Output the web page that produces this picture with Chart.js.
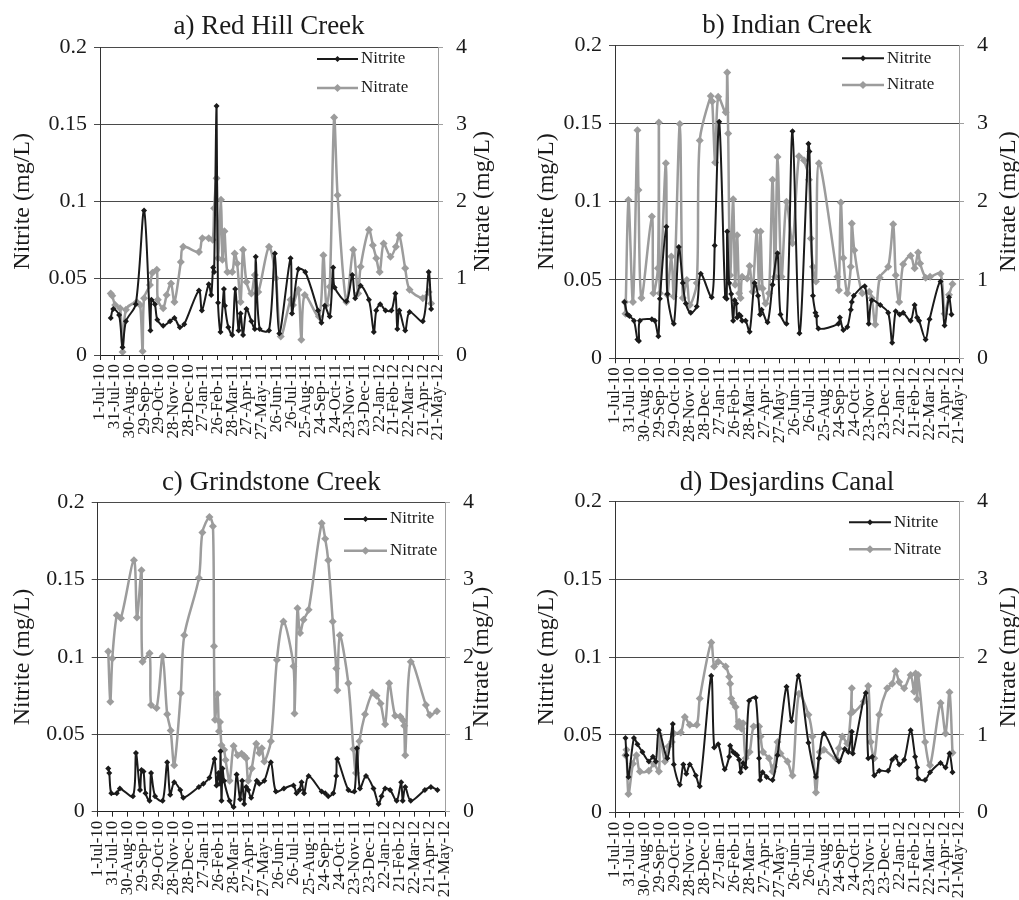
<!DOCTYPE html>
<html>
<head>
<meta charset="utf-8">
<title>Nitrite and nitrate</title>
<script src="https://cdn.jsdelivr.net/npm/chart.js@4.4.1/dist/chart.umd.min.js"></script>
<style>
  html, body { margin: 0; padding: 0; background: #fff; }
  #page { position: relative; width: 1019px; height: 900px; overflow: hidden; }
  .panel { position: absolute; }
</style>
</head>
<body>
<div id="page">
  <div class="panel" style="left:0;top:0"><canvas id="chart-a" width="509" height="450"></canvas></div>
  <div class="panel" style="left:509px;top:0"><canvas id="chart-b" width="510" height="450"></canvas></div>
  <div class="panel" style="left:0;top:450px"><canvas id="chart-c" width="509" height="450"></canvas></div>
  <div class="panel" style="left:509px;top:450px"><canvas id="chart-d" width="510" height="450"></canvas></div>
</div>
<script>
// days since 1-Jul-10, one tick every 30 days
const tickDays = [0,30,60,90,120,150,180,210,240,270,300,330,360,390,420,450,480,510,540,570,600,630,660,690];
const dateLabels = ['1-Jul-10','31-Jul-10','30-Aug-10','29-Sep-10','29-Oct-10','28-Nov-10','28-Dec-10',
  '27-Jan-11','26-Feb-11','28-Mar-11','27-Apr-11','27-May-11','26-Jun-11','26-Jul-11','25-Aug-11',
  '24-Sep-11','24-Oct-11','23-Nov-11','23-Dec-11','22-Jan-12','21-Feb-12','22-Mar-12','21-Apr-12','21-May-12'];
const nitriteTicks = [0, 0.05, 0.1, 0.15, 0.2];
const nitriteTickLabels = ['0', '0.05', '0.1', '0.15', '0.2'];
const nitrateTicks = [0, 1, 2, 3, 4];
const nitrateTickLabels = ['0', '1', '2', '3', '4'];
const seriesNames = ['Nitrite', 'Nitrate'];

// [day, mg/L]
const redHillNitrite = [[22,0.024],[27,0.030],[39,0.026],[46,0.005],[53,0.022],[73,0.033],[90,0.094],[103,0.016],[105,0.036],[112,0.033],[117,0.023],[129,0.019],[143,0.022],[152,0.024],[163,0.018],[172,0.020],[202,0.042],[208,0.029],[222,0.046],[227,0.039],[231,0.057],[233,0.054],[238,0.162],[241,0.034],[246,0.015],[253,0.043],[255,0.032],[262,0.018],[270,0.013],[276,0.043],[283,0.016],[287,0.027],[292,0.013],[299,0.030],[309,0.022],[316,0.017],[318,0.064],[326,0.017],[345,0.016],[357,0.066],[366,0.014],[389,0.063],[392,0.027],[405,0.056],[419,0.054],[445,0.029],[452,0.021],[459,0.032],[469,0.025],[476,0.057],[479,0.044],[503,0.035],[515,0.052],[521,0.037],[532,0.045],[549,0.036],[559,0.015],[564,0.029],[572,0.033],[583,0.029],[595,0.029],[603,0.040],[607,0.017],[611,0.029],[623,0.016],[632,0.028],[659,0.022],[671,0.054],[676,0.030]];
const redHillNitrate = [[22,0.80],[25,0.77],[31,0.65],[41,0.61],[46,0.04],[53,0.59],[75,0.69],[82,0.65],[87,0.05],[90,0.74],[102,0.91],[107,1.07],[116,1.11],[118,0.72],[129,0.61],[136,0.78],[145,0.93],[152,0.69],[165,1.21],[170,1.41],[202,1.34],[209,1.52],[222,1.52],[230,1.50],[233,1.91],[238,2.30],[241,1.26],[247,2.02],[250,1.24],[254,1.61],[260,1.08],[270,1.08],[275,1.32],[280,1.19],[287,0.69],[292,1.37],[299,0.95],[309,0.80],[316,1.04],[323,0.82],[345,1.41],[359,1.00],[369,0.24],[389,0.72],[394,0.65],[405,0.85],[411,0.20],[418,0.78],[447,0.50],[456,1.30],[462,0.65],[469,0.89],[478,3.09],[485,2.08],[503,0.69],[517,1.37],[527,0.80],[532,1.15],[549,1.63],[557,1.43],[564,1.26],[571,1.08],[579,1.45],[593,1.28],[604,1.41],[611,1.56],[623,1.13],[632,0.85],[659,0.74],[671,0.82],[676,0.67]];

const indianNitrite = [[19,0.036],[25,0.028],[29,0.027],[38,0.024],[45,0.012],[48,0.011],[50,0.024],[74,0.025],[80,0.024],[87,0.014],[90,0.038],[103,0.084],[105,0.041],[118,0.022],[128,0.071],[136,0.048],[142,0.035],[152,0.029],[164,0.033],[172,0.054],[194,0.039],[200,0.072],[209,0.151],[221,0.039],[224,0.038],[225,0.081],[229,0.048],[233,0.041],[237,0.024],[240,0.037],[243,0.035],[245,0.026],[249,0.028],[252,0.027],[255,0.024],[262,0.024],[270,0.017],[280,0.048],[287,0.040],[291,0.028],[294,0.031],[306,0.023],[316,0.047],[326,0.067],[332,0.028],[344,0.022],[356,0.145],[370,0.016],[388,0.137],[390,0.132],[397,0.040],[402,0.029],[404,0.027],[408,0.019],[448,0.022],[451,0.026],[458,0.018],[466,0.020],[473,0.031],[475,0.036],[479,0.040],[501,0.046],[509,0.022],[515,0.037],[532,0.034],[548,0.029],[556,0.010],[563,0.030],[571,0.028],[578,0.029],[593,0.024],[601,0.034],[606,0.026],[610,0.024],[623,0.012],[631,0.025],[653,0.049],[661,0.021],[670,0.039],[675,0.028]];
const indianNitrate = [[20,0.72],[21,0.57],[27,2.02],[36,0.72],[45,2.91],[47,2.15],[53,0.77],[74,1.81],[77,0.83],[86,1.15],[88,3.01],[90,0.83],[102,2.49],[105,0.81],[113,1.30],[118,0.79],[130,2.99],[136,0.77],[144,1.00],[150,0.68],[164,0.96],[170,2.78],[192,3.35],[195,3.28],[201,2.50],[207,3.34],[222,3.14],[225,3.65],[227,2.87],[231,1.06],[237,2.03],[241,0.94],[245,1.57],[249,0.83],[252,0.77],[255,1.04],[265,1.02],[270,1.18],[276,0.85],[284,1.62],[289,0.91],[292,1.62],[296,0.89],[302,0.70],[309,0.83],[316,2.28],[321,1.04],[326,2.57],[334,1.04],[344,2.00],[356,1.47],[369,2.58],[379,2.53],[389,2.28],[393,1.53],[397,1.17],[403,0.98],[409,2.49],[446,1.04],[449,0.87],[453,1.99],[458,1.28],[466,0.83],[473,1.17],[475,1.72],[480,1.38],[496,0.83],[510,0.85],[515,0.77],[522,0.43],[531,1.03],[548,1.17],[558,1.71],[563,1.06],[570,0.72],[578,1.20],[593,1.31],[601,1.15],[608,1.35],[612,1.21],[623,1.03],[632,1.04],[653,1.08],[661,0.57],[670,0.81],[677,0.95]];

const grindstoneNitrite = [[21,0.028],[23,0.025],[27,0.012],[38,0.012],[44,0.015],[70,0.010],[76,0.038],[84,0.014],[87,0.027],[91,0.026],[95,0.012],[103,0.007],[106,0.025],[114,0.010],[129,0.007],[138,0.032],[144,0.011],[152,0.019],[164,0.014],[170,0.009],[201,0.016],[210,0.018],[222,0.022],[232,0.034],[236,0.017],[240,0.025],[243,0.018],[244,0.039],[246,0.007],[248,0.028],[251,0.020],[262,0.007],[270,0.003],[276,0.024],[283,0.008],[287,0.020],[291,0.005],[295,0.016],[299,0.014],[305,0.009],[316,0.020],[321,0.018],[331,0.020],[344,0.032],[354,0.013],[370,0.015],[389,0.017],[395,0.012],[401,0.014],[405,0.019],[410,0.012],[419,0.023],[445,0.013],[452,0.012],[458,0.010],[468,0.012],[474,0.023],[476,0.034],[498,0.014],[510,0.013],[515,0.041],[521,0.015],[533,0.023],[548,0.015],[558,0.005],[564,0.010],[571,0.015],[581,0.014],[594,0.007],[603,0.019],[606,0.007],[611,0.016],[622,0.007],[650,0.014],[662,0.016],[675,0.014]];
const grindstoneNitrate = [[21,2.07],[25,1.42],[29,1.98],[38,2.54],[46,2.50],[72,3.25],[78,2.51],[87,3.12],[89,1.94],[103,2.05],[106,1.38],[117,1.34],[129,2.01],[138,1.26],[145,1.05],[152,0.60],[165,1.53],[172,2.28],[201,3.02],[208,3.61],[222,3.81],[229,3.69],[231,2.14],[233,1.19],[238,1.52],[241,1.04],[243,1.16],[246,0.86],[251,0.80],[254,0.67],[262,0.40],[270,0.85],[278,0.73],[286,0.75],[291,0.72],[295,0.69],[299,0.40],[306,0.56],[315,0.88],[321,0.76],[326,0.82],[331,0.65],[344,0.91],[356,1.96],[369,2.46],[389,1.88],[391,1.27],[397,2.63],[402,2.31],[409,2.48],[419,2.61],[445,3.73],[452,3.53],[458,3.25],[467,2.46],[474,1.85],[476,1.57],[481,2.28],[498,1.66],[508,0.81],[513,0.50],[520,0.91],[531,1.26],[546,1.54],[554,1.50],[562,1.40],[571,1.13],[579,1.66],[591,1.24],[601,1.23],[607,1.18],[609,1.11],[611,0.73],[622,1.94],[652,1.38],[660,1.25],[674,1.30]];

const desjardinsNitrite = [[21,0.048],[23,0.037],[27,0.023],[38,0.048],[45,0.044],[55,0.039],[68,0.033],[76,0.036],[82,0.033],[88,0.053],[105,0.035],[116,0.057],[118,0.031],[130,0.018],[137,0.031],[143,0.025],[150,0.031],[162,0.024],[170,0.017],[193,0.088],[199,0.042],[207,0.044],[220,0.028],[229,0.036],[231,0.043],[237,0.039],[241,0.038],[245,0.037],[249,0.034],[252,0.026],[257,0.032],[262,0.029],[269,0.072],[282,0.074],[289,0.035],[291,0.021],[296,0.026],[304,0.023],[316,0.021],[326,0.037],[344,0.081],[354,0.059],[368,0.088],[388,0.045],[403,0.023],[409,0.035],[419,0.051],[449,0.033],[461,0.041],[468,0.039],[475,0.052],[477,0.038],[503,0.077],[508,0.035],[516,0.036],[520,0.024],[530,0.027],[548,0.027],[556,0.034],[563,0.036],[570,0.031],[580,0.034],[593,0.053],[602,0.036],[606,0.029],[608,0.022],[622,0.021],[632,0.026],[653,0.032],[663,0.029],[671,0.038],[677,0.026]];
const desjardinsNitrate = [[21,0.74],[23,0.81],[27,0.24],[36,0.63],[43,0.74],[50,0.53],[68,0.54],[78,0.63],[88,0.53],[90,1.00],[100,0.66],[107,0.85],[114,0.91],[118,1.02],[132,1.03],[140,1.23],[150,1.13],[164,1.13],[170,1.47],[193,2.19],[199,1.88],[207,1.94],[222,1.88],[229,1.75],[231,1.66],[233,1.47],[237,1.41],[242,1.36],[245,1.11],[249,1.17],[254,1.08],[257,1.15],[262,0.70],[270,0.78],[278,1.11],[289,1.11],[292,0.98],[297,0.78],[309,0.70],[316,0.53],[319,0.59],[326,0.91],[332,0.76],[346,0.66],[356,0.48],[369,1.53],[388,1.26],[396,0.98],[403,0.26],[411,0.78],[419,0.81],[443,0.70],[449,0.83],[456,0.98],[466,0.89],[473,1.28],[475,1.60],[477,1.30],[499,1.43],[508,1.63],[513,0.91],[520,0.70],[530,1.26],[546,1.60],[556,1.66],[563,1.82],[570,1.68],[580,1.60],[593,1.77],[600,1.56],[603,1.79],[606,1.46],[608,1.77],[622,0.91],[632,0.61],[653,1.41],[663,1.02],[671,1.55],[677,0.77]];

const SERIF = "'Liberation Serif', 'Times New Roman', serif";
const INK = '#1a1a1a';
const GREY = '#9c9c9c';
Chart.defaults.font.family = SERIF;
Chart.defaults.color = INK;

const toXY = pts => pts.map(p => ({ x: p[0], y: p[1] }));

function diamond(ctx, x, y, r, color) {
  ctx.fillStyle = color;
  ctx.beginPath();
  ctx.moveTo(x, y - r); ctx.lineTo(x + r, y); ctx.lineTo(x, y + r); ctx.lineTo(x - r, y);
  ctx.closePath();
  ctx.fill();
}

// panel title, in-plot legend and axis titles (both read bottom-to-top)
const panelDecor = {
  id: 'panelDecor',
  afterDraw(chart, args, o) {
    const { ctx, chartArea: ca } = chart;
    ctx.save();
    ctx.fillStyle = INK;
    ctx.textAlign = 'center';
    ctx.textBaseline = 'middle';
    ctx.font = '27px ' + SERIF;
    ctx.fillText(o.title, (ca.left + ca.right) / 2, ca.top - o.titleGap);

    ctx.font = '24px ' + SERIF;
    const midY = (ca.top + ca.bottom) / 2;
    [[ca.left - o.leftTitleDx, 'Nitrite (mg/L)'], [ca.right + o.rightTitleDx, 'Nitrate (mg/L)']].forEach(([x, t]) => {
      ctx.save();
      ctx.translate(x, midY);
      ctx.rotate(-Math.PI / 2);
      ctx.fillText(t, 0, 0);
      ctx.restore();
    });

    ctx.font = '17px ' + SERIF;
    ctx.textAlign = 'left';
    chart.data.datasets.forEach((ds, i) => {
      const y = ca.top + o.legendRows[i];
      const x1 = ca.right - o.legendX[0], x2 = ca.right - o.legendX[1];
      ctx.strokeStyle = ds.borderColor;
      ctx.lineWidth = ds.borderWidth;
      ctx.beginPath(); ctx.moveTo(x1, y); ctx.lineTo(x2, y); ctx.stroke();
      diamond(ctx, (x1 + x2) / 2, y, ds.pointRadius, ds.borderColor);
      ctx.fillStyle = INK;
      ctx.fillText(ds.label, x2 + 3, y);
    });
    ctx.restore();
  }
};

function makePanel(id, title, nitrite, nitrate, lay) {
  new Chart(document.getElementById(id), {
    type: 'line',
    data: {
      datasets: [
        { label: seriesNames[0], data: toXY(nitrite), yAxisID: 'y', borderColor: INK, backgroundColor: INK,
          borderWidth: 2, pointStyle: 'rectRot', pointRadius: 3, pointBorderWidth: 0, tension: 0.3 },
        { label: seriesNames[1], data: toXY(nitrate), yAxisID: 'y1', borderColor: GREY, backgroundColor: GREY,
          borderWidth: 2.5, pointStyle: 'rectRot', pointRadius: 4, pointBorderWidth: 0, tension: 0.3 }
      ]
    },
    options: {
      responsive: false,
      animation: false,
      layout: { padding: { top: lay.top, left: 0, right: 0, bottom: 0 } },
      plugins: {
        legend: { display: false },
        tooltip: { enabled: false },
        panelDecor: { title, ...lay }
      },
      scales: {
        x: {
          type: 'linear', min: 0, max: 690,
          afterBuildTicks: s => { s.ticks = tickDays.map(v => ({ value: v })); },
          afterFit: s => { s.height = lay.xHeight; },
          ticks: { autoSkip: false, minRotation: 90, maxRotation: 90, padding: 4, font: { size: 17 },
                   callback: (v, i) => dateLabels[i] },
          grid: { drawOnChartArea: false, tickLength: 5, color: '#222' },
          border: { color: '#222' }
        },
        y: {
          position: 'left', min: 0, max: 0.2,
          afterBuildTicks: s => { s.ticks = nitriteTicks.map(v => ({ value: v })); },
          afterFit: s => { s.width = lay.yWidth; },
          ticks: { padding: 7, font: { size: 22 }, callback: (v, i) => nitriteTickLabels[i] },
          grid: { color: '#4a4a4a', tickLength: 6 },
          border: { color: '#333' }
        },
        y1: {
          position: 'right', min: 0, max: 4,
          afterBuildTicks: s => { s.ticks = nitrateTicks.map(v => ({ value: v })); },
          afterFit: s => { s.width = lay.y1Width; },
          ticks: { padding: 13, font: { size: 22 }, callback: (v, i) => nitrateTickLabels[i] },
          grid: { drawOnChartArea: false, color: '#a0a0a0', tickLength: 5 },
          border: { color: '#a0a0a0' }
        }
      }
    },
    plugins: [panelDecor]
  });
}

makePanel('chart-a', 'a) Red Hill Creek', redHillNitrite, redHillNitrate,
  { top: 47.7, yWidth: 100, y1Width: 71, xHeight: 95, titleGap: 21, leftTitleDx: 77.5, rightTitleDx: 45,
    legendX: [121, 80], legendRows: [11.3, 40.3] });
makePanel('chart-b', 'b) Indian Creek', indianNitrite, indianNitrate,
  { top: 45, yWidth: 106, y1Width: 60, xHeight: 91.7, titleGap: 19, leftTitleDx: 68, rightTitleDx: 50,
    legendX: [117, 75], legendRows: [13.3, 40] });
makePanel('chart-c', 'c) Grindstone Creek', grindstoneNitrite, grindstoneNitrate,
  { top: 52.3, yWidth: 97.7, y1Width: 64, xHeight: 88.3, titleGap: 19, leftTitleDx: 75, rightTitleDx: 37,
    legendX: [101, 58], legendRows: [16.7, 48.4] });
makePanel('chart-d', 'd) Desjardins Canal', desjardinsNitrite, desjardinsNitrate,
  { top: 51.7, yWidth: 106, y1Width: 60, xHeight: 87.3, titleGap: 19, leftTitleDx: 68, rightTitleDx: 50,
    legendX: [110, 68], legendRows: [20.6, 47.6] });
</script>
</body>
</html>
